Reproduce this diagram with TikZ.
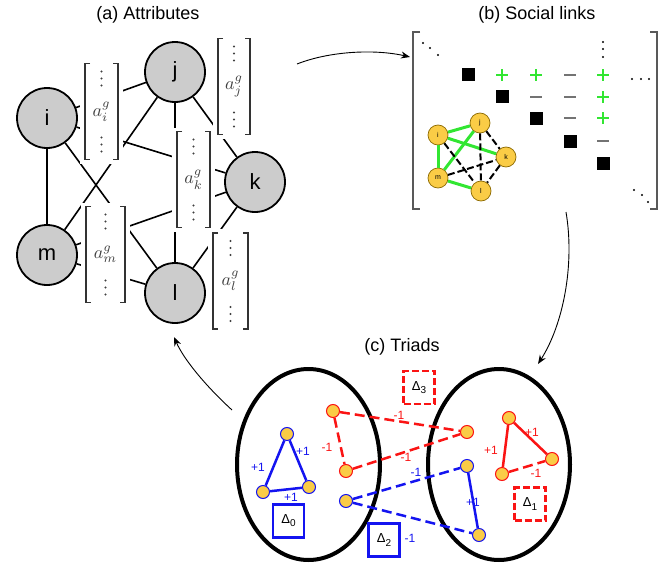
\documentclass[tikz,border=0pt]{standalone}
\usepackage{graphicx}
\usepackage{fontspec}
\setmainfont{Liberation Sans}
\usetikzlibrary{arrows.meta,shapes.geometric}
\definecolor{nodegray}{RGB}{204,204,204}
\definecolor{nodeyel}{RGB}{250,204,70}
\definecolor{smallout}{RGB}{140,105,0}
\definecolor{tblue}{RGB}{20,20,240}
\definecolor{tred}{RGB}{250,20,20}
\definecolor{lgreen}{RGB}{50,230,50}
\newcommand\attrvec[5]{%
  \node[fill=white, inner sep=0, minimum width=#4+10, minimum height=104] (#1) at (#2,#3) {\color{black!75}\scalebox{1.8}{$#5$}};
  \draw[brk] ({#2-#4/2+5},{#3-48}) -- ({#2-#4/2},{#3-48}) -- ({#2-#4/2},{#3+48}) -- ({#2-#4/2+5},{#3+48});
  \draw[brk] ({#2+#4/2-5},{#3-48}) -- ({#2+#4/2},{#3-48}) -- ({#2+#4/2},{#3+48}) -- ({#2+#4/2-5},{#3+48});
  \foreach \d in {26,33,40} {\fill[black!75] (#2,{#3-\d}) circle (1.1); \fill[black!75] (#2,{#3+\d}) circle (1.1);}
}
\newcommand\plusat[2]{\draw[draw=lgreen, line width=1.1] ({#1-6},#2) -- ({#1+6},#2) ({#1},{#2-6}) -- ({#1},{#2+6});}
\newcommand\minusat[2]{\draw[draw=black!55, line width=1.4] ({#1-6},#2) -- ({#1+6},#2);}
\begin{document}
\begin{tikzpicture}[x=1pt,y=-1pt,
  big/.style={circle, draw, line width=1.8, fill=nodegray, minimum size=60, inner sep=0, font=\fontsize{22}{22}\selectfont},
  aedge/.style={line width=1.6},
  ttl/.style={font=\fontsize{18}{18}\selectfont},
  brk/.style={draw=black!80, line width=1.1},
  sm/.style={circle, draw=smallout, fill=nodeyel, line width=0.7, minimum size=20, inner sep=0, font=\fontsize{7}{7}\selectfont},
  gedge/.style={line width=3, draw=lgreen},
  kedge/.style={line width=2, dash pattern=on 7pt off 3pt},
  tri/.style={circle, fill=nodeyel, line width=1, minimum size=13, inner sep=0},
  bnode/.style={tri, draw=tblue},
  rnode/.style={tri, draw=tred},
  bsolid/.style={draw=tblue, line width=2.5},
  bdash/.style={bsolid, dash pattern=on 10pt off 5pt},
  rsolid/.style={draw=tred, line width=2.5},
  rdash/.style={rsolid, dash pattern=on 10pt off 5pt},
  blab/.style={text=tblue, font=\fontsize{12}{12}\selectfont},
  rlab/.style={text=tred, font=\fontsize{12}{12}\selectfont},
  dbox/.style={minimum width=31, minimum height=33, line width=2.5, inner sep=0, font=\fontsize{13}{13}\selectfont},
  arr/.style={-{Stealth[length=9pt,width=7pt]}, line width=0.9},
  ell/.style={ellipse, draw, line width=4, inner sep=0}
]
\useasboundingbox (0,0) rectangle (670,565);

% ---------- (a) Attributes ----------
\node[ttl] (ta) at (148,15) {(a) Attributes};
\node[big] (i) at (47,118) {i};
\node[big] (j) at (175,72) {j};
\node[big] (k) at (255,182) {k};
\node[big] (m) at (47,255) {m};
\node[big] (l) at (175,293) {l};
\foreach \a/\b in {i/j,i/k,i/m,i/l,j/k,j/l,j/m,k/m,k/l,m/l}
  \draw[aedge] (\a) -- (\b);
\attrvec{ai}{101.5}{111.5}{33}{a_i^g}
\attrvec{aj}{234}{86.5}{32}{a_j^g}
\attrvec{ak}{193.5}{179.5}{33}{a_k^g}
\attrvec{am}{105.5}{254.5}{39}{a_m^g}
\attrvec{al}{230.5}{281}{35}{a_l^g}

% ---------- (b) Social links ----------
\node[ttl] (tb) at (537,15) {(b) Social links};
\node[inner sep=0, minimum width=244, minimum height=177] (M) at (535,120.5) {};
\draw[draw=black!65, line width=1.5] (420,32) -- (413,32) -- (413,209) -- (420,209);
\draw[draw=black!65, line width=1.5] (650,32) -- (657,32) -- (657,209) -- (650,209);
\foreach \x/\y in {423/43,430/48,438/55,603/42,603/49,603/57,632/79,641/79,649/79,634/190,642/195,648/202}
  \fill (\x,\y) circle (1.1);
\foreach \x/\y in {468/74,502/96,536/118,570/141,603/163}
  \fill (\x-6.5,\y-6.5) rectangle (\x+6.5,\y+6.5);
\plusat{502}{75}\plusat{536}{75}\minusat{570}{75}\plusat{603}{75}
\minusat{536}{97}\minusat{570}{97}\plusat{603}{97}
\minusat{570}{118}\plusat{603}{118}
\minusat{603}{141}
\node[sm] (si) at (438,135) {i};
\node[sm] (sj) at (480,123) {j};
\node[sm] (sk) at (506,157) {k};
\node[sm] (sm) at (438,178) {m};
\node[sm] (sl) at (481,191) {l};
\foreach \a/\b in {si/sj,si/sk,si/sm,sj/sm,sm/sl}
  \draw[gedge] (\a) -- (\b);
\foreach \a/\b in {si/sl,sj/sk,sj/sl,sm/sk,sk/sl}
  \draw[kedge] (\a) -- (\b);

% ---------- (c) Triads ----------
\node[ttl] (tc) at (402,347) {(c) Triads};
\node[ell, minimum width=143, minimum height=191] (E1) at (308.5,464.5) {};
\node[ell, minimum width=142, minimum height=191] (E2) at (499,464.5) {};

\node[bnode] (b1) at (287,434) {};
\node[bnode] (b2) at (263,492) {};
\node[bnode] (b3) at (309,487) {};
\draw[bsolid] (b1) -- (b2) (b1) -- (b3) (b2) -- (b3);
\node[blab] at (258,467) {+1};
\node[blab] at (303,451) {+1};
\node[blab] at (291,497) {+1};
\node[dbox, draw=tblue] (d0) at (288.5,521) {Δ\raisebox{-0.45ex}{\fontsize{10}{10}\selectfont 0}};

\node[rnode] (r1) at (333,411) {};
\node[rnode] (r2) at (346,471) {};
\node[rnode] (r3) at (467,432) {};
\draw[rdash] (r1) -- (r2);
\draw[rdash] (r1) -- (r3);
\draw[rdash] (r2) -- (r3);
\node[rlab] at (327,447) {-1};
\node[rlab] at (399,415) {-1};
\node[rlab] at (406,457) {-1};
\node[dbox, draw=tred, dash pattern=on 7pt off 3pt] (d3) at (419,387.5) {Δ\raisebox{-0.45ex}{\fontsize{10}{10}\selectfont 3}};

\node[bnode] (c1) at (346,501) {};
\node[bnode] (c2) at (467,466) {};
\node[bnode] (c3) at (479,535) {};
\draw[bdash] (c1) -- (c2);
\draw[bdash] (c1) -- (c3);
\draw[bsolid] (c2) -- (c3);
\node[blab] at (416,472) {-1};
\node[blab] at (473,502) {+1};
\node[dbox, draw=tblue] (d2) at (384,540) {Δ\raisebox{-0.45ex}{\fontsize{10}{10}\selectfont 2}};
\node[blab] at (410,538) {-1};

\node[rnode] (t1) at (509,418) {};
\node[rnode] (t2) at (552,459) {};
\node[rnode] (t3) at (502,474) {};
\draw[rsolid] (t1) -- (t2);
\draw[rsolid] (t1) -- (t3);
\draw[rdash] (t3) -- (t2);
\node[rlab] at (532,432) {+1};
\node[rlab] at (491,450) {+1};
\node[rlab] at (536,473) {-1};
\node[dbox, draw=tred, dash pattern=on 7pt off 3pt] (d1) at (530,504) {Δ\raisebox{-0.45ex}{\fontsize{10}{10}\selectfont 1}};

% ---------- arrows ----------
\coordinate (ab0) at (297,64);
\coordinate (ab1) at (410,57);
\coordinate (bc0) at (566,212);
\coordinate (bc1) at (538,364);
\coordinate (ca0) at (232,410);
\coordinate (ca1) at (174,337);
\draw[arr] (ab0) .. controls (330,51) and (375,49) .. (ab1);
\draw[arr] (bc0) .. controls (575,265) and (563,325) .. (bc1);
\draw[arr] (ca0) .. controls (210,390) and (185,362) .. (ca1);
\end{tikzpicture}
\end{document}
